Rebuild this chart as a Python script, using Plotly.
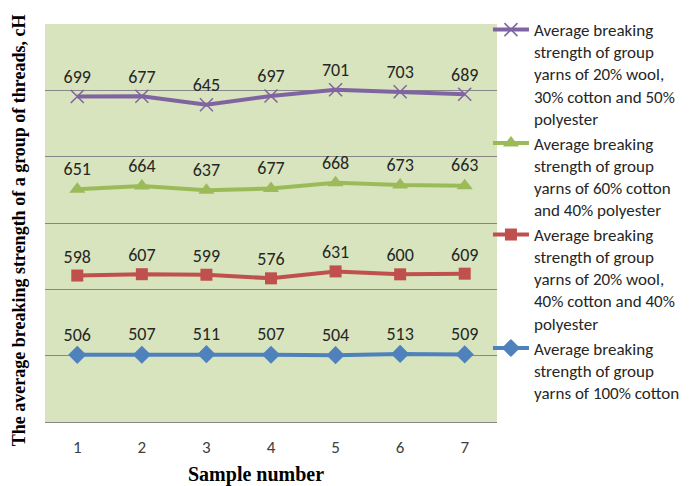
import plotly.graph_objects as go

samples = ["1", "2", "3", "4", "5", "6", "7"]
cotton100 = [506, 507, 511, 507, 504, 513, 509]
wool20_cotton40 = [598, 607, 599, 576, 631, 600, 609]
cotton60 = [651, 664, 637, 677, 668, 673, 663]
wool20_cotton30 = [699, 677, 645, 697, 701, 703, 689]

names = [
    "Average breaking<br>strength of group<br>yarns of 100% cotton",
    "Average breaking<br>strength of group<br>yarns of 20% wool,<br>40% cotton and 40%<br>polyester",
    "Average breaking<br>strength of group<br>yarns of 60% cotton<br>and 40% polyester",
    "Average breaking<br>strength of group<br>yarns of 20% wool,<br>30% cotton and 50%<br>polyester",
]
series = [cotton100, wool20_cotton40, cotton60, wool20_cotton30]
colors = ["#4F81BD", "#C0504D", "#9BBB59", "#8064A2"]
symbols = ["diamond", "square", "triangle-up", "x-thin"]
sizes = [14, 12, 14, 13]

FONT = "Carlito, Lato, sans-serif"
SERIF = "Liberation Serif, Times New Roman, serif"

fig = go.Figure()
for nm, vals, col, sym, sz in zip(names, series, colors, symbols, sizes):
    fig.add_trace(go.Scatter(
        x=samples, y=vals, name=nm, stackgroup="one", fill="none",
        mode="lines+markers+text",
        text=[str(v) for v in vals], textposition="top center",
        textfont=dict(family=FONT, size=18, color="#262626"),
        line=dict(color=col, width=4),
        marker=dict(symbol=sym, size=sz, color=col,
                    line=dict(color=col, width=1.5 if sym == "x-thin" else 0)),
    ))

fig.update_layout(
    width=697, height=486,
    margin=dict(l=45, r=196, t=22, b=64),
    paper_bgcolor="white", plot_bgcolor="#D7E4BD",
    font=dict(family=FONT, size=17, color="#262626"),
    showlegend=True,
    legend=dict(x=0.98, xanchor="left", y=1.03, yanchor="top", traceorder="reversed",
                valign="top", bgcolor="rgba(0,0,0,0)", maxheight=2000,
                font=dict(family=FONT, size=17, color="#262626"),
                tracegroupgap=0, itemwidth=36),
    xaxis=dict(type="category", range=[-0.5, 6.5], showgrid=False, zeroline=False,
               showline=False, ticks="", tickfont=dict(family=FONT, color="#404040", size=17),
               ticklabelstandoff=13),
    yaxis=dict(range=[0, 3000], dtick=500, showticklabels=False, showgrid=True,
               gridcolor="#878787", gridwidth=1, zeroline=True, zerolinecolor="#878787",
               zerolinewidth=1, showline=False, ticks=""),
    annotations=[
        dict(text="<b>Sample number</b>", xref="paper", yref="paper",
             x=(258 - 45) / 456, y=-(475 - 422) / 400, xanchor="center", yanchor="middle",
             showarrow=False,
             font=dict(family=SERIF, size=20, color="#000000")),
        dict(text="<b>The average breaking strength of a group of threads, cH</b>",
             xref="paper", yref="paper", textangle=-90,
             x=-(45 - 19) / 456, y=(422 - 229) / 400, xanchor="center", yanchor="middle",
             showarrow=False,
             font=dict(family=SERIF, size=18, color="#000000")),
    ],
)

fig.write_html("out.html")
